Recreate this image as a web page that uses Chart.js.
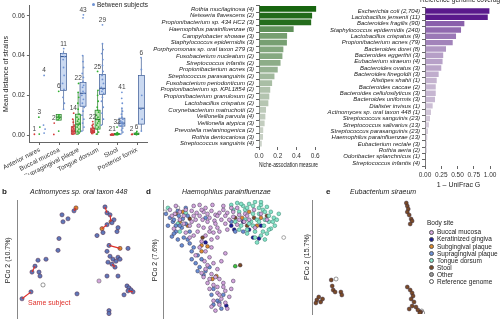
<!DOCTYPE html>
<html>
<head>
<meta charset="utf-8">
<script src="https://cdn.jsdelivr.net/npm/chart.js@4.4.1/dist/chart.umd.min.js"></script>
<style>
  html, body { margin: 0; padding: 0; background: #fff; }
  body { width: 500px; height: 319px; overflow: hidden; position: relative; font-family: "Liberation Sans", Arial, sans-serif; color: #222; }
  canvas { position: absolute; }
  .t { position: absolute; white-space: nowrap; font-size: 7px; line-height: 8px; }
  .lab { position: absolute; font-weight: bold; font-size: 8px; }
  .dot { position: absolute; width: 5px; height: 5px; border-radius: 50%; box-sizing: border-box; border: 0.5px solid #555; }
</style>
</head>
<body>
<canvas id="boxChart" width="160" height="175" style="left:0;top:0"></canvas>
<canvas id="nicheChart" width="180" height="172" style="left:150px;top:0"></canvas>
<canvas id="covChart" width="185" height="192" style="left:315px;top:0"></canvas>
<canvas id="actChart" width="150" height="140" style="left:0;top:185px"></canvas>
<canvas id="haeChart" width="160" height="140" style="left:148px;top:185px"></canvas>
<canvas id="eubChart" width="130" height="135" style="left:302px;top:185px"></canvas>

<div class="dot" style="left:92px;top:3px;width:3px;height:3px;background:#6f93d4;border:none"></div>
<div class="t" style="left:97px;top:1px;font-size:6.5px">Between subjects</div>
<div class="t" style="left:420px;top:-4px;font-size:6.5px">Reference genome coverage</div>

<div class="lab" style="left:2px;top:187px">b</div>
<div class="lab" style="left:146px;top:187px">d</div>
<div class="lab" style="left:326px;top:187px">e</div>
<div class="t" style="left:30px;top:188px;font-style:italic">Actinomyces sp. oral taxon 448</div>
<div class="t" style="left:182px;top:188px;font-style:italic">Haemophilus parainfluenzae</div>
<div class="t" style="left:350px;top:188px;font-style:italic">Eubacterium siraeum</div>
<div class="t" style="left:28px;top:299px;color:#e0302a">Same subject</div>

<div id="legend"></div>

<script>
// ---- panel a: mean distance of strains ----
const siteNames = ['Anterior nares', 'Buccal mucosa', 'Supragingival plaque', 'Tongue dorsum', 'Stool', 'Posterior fornix'];
const yTicksA = [0, 0.02, 0.04, 0.06];
// box stats: [whisker low, q1, median, q3, whisker high]
const redBox = [null, null, [0, 0.0005, 0.002, 0.0042, 0.008], [0.0003, 0.0012, 0.002, 0.0035, 0.0055], [0, 0.0001, 0.0002, 0.0004, 0.0008], null];
const greenBox = [null, [0.0075, 0.0075, 0.009, 0.0103, 0.0105], [0, 0.0015, 0.0055, 0.0105, 0.0215], [0, 0.003, 0.0078, 0.0125, 0.0225], [0, 0.0002, 0.0004, 0.0008, 0.0015], [0, 0.0002, 0.0005, 0.001, 0.0018]];
const blueBox = [null, [0.013, 0.0225, 0.0395, 0.041, 0.0425], [0.002, 0.0145, 0.021, 0.0265, 0.040], [0.005, 0.0205, 0.0235, 0.0305, 0.046], [0.0005, 0.0045, 0.006, 0.0085, 0.0135], [0.002, 0.0055, 0.0135, 0.030, 0.039]];
const redCounts = [1, 2, 14, 22, 21, 2];
const greenCounts = [3, 6, 22, 25, 32, 6];
const blueCounts = [4, 11, 43, 29, 41, 6];
// points: [jitter, value]
const redPts = [
  [[0, 0.0004]],
  [[0, 0.0003], [0.02, 0.006]],
  [[-0.05, 0.0005], [0.04, 0.001], [-0.02, 0.0015], [0.06, 0.002], [-0.06, 0.0025], [0.03, 0.003], [0, 0.0035], [-0.04, 0.004], [0.05, 0.005], [0, 0.0065], [-0.03, 0.008], [0.02, 0.011]],
  [[-0.05, 0.0008], [0.04, 0.0012], [-0.02, 0.0016], [0.06, 0.002], [0, 0.0024], [-0.06, 0.0028], [0.03, 0.0033], [0, 0.004], [-0.03, 0.0048], [0.02, 0.0055], [0, 0.0068]],
  [[-0.05, 0.0001], [0.03, 0.0002], [0, 0.0003], [0.06, 0.0004], [-0.03, 0.0005]],
  [[0, 0.0003], [0.04, 0.0004]]
];
const greenPts = [
  [[0, 0.0005], [0.03, 0.004], [-0.02, 0.009]],
  [[0, 0.002], [-0.03, 0.0078], [0.03, 0.0085], [0, 0.0095], [0.02, 0.0102], [0, 0.022]],
  [[-0.06, 0.0005], [0.05, 0.001], [-0.02, 0.002], [0.04, 0.003], [-0.05, 0.004], [0, 0.005], [0.06, 0.006], [-0.03, 0.007], [0.02, 0.008], [-0.06, 0.009], [0.05, 0.0105], [0, 0.013], [-0.02, 0.016], [0.03, 0.019], [0, 0.0215], [0.02, 0.026]],
  [[-0.06, 0.0005], [0.05, 0.0015], [-0.02, 0.003], [0.04, 0.004], [-0.05, 0.005], [0, 0.006], [0.06, 0.007], [-0.03, 0.008], [0.02, 0.009], [-0.06, 0.010], [0.05, 0.0115], [0, 0.0125], [-0.02, 0.014], [0.03, 0.017], [0, 0.02], [0.02, 0.0225], [0, 0.032]],
  [[-0.05, 0.0001], [0.03, 0.0002], [0, 0.0004], [0.06, 0.0006], [-0.03, 0.0008], [0.02, 0.0012], [0, 0.004]],
  [[0, 0.0002], [0.04, 0.0005], [-0.03, 0.0009], [0.02, 0.0018]]
];
const bluePts = [
  [[0, 0.001], [0.05, 0.003], [-0.03, 0.005], [0, 0.030]],
  [[0, 0.013], [0.04, 0.016], [-0.03, 0.019], [0.02, 0.023], [-0.05, 0.026], [0.03, 0.03], [0, 0.034], [-0.02, 0.038], [0.05, 0.0395], [-0.04, 0.041], [0.01, 0.0435]],
  [[-0.06, 0.002], [0.05, 0.004], [-0.02, 0.006], [0.04, 0.008], [-0.05, 0.01], [0, 0.012], [0.06, 0.014], [-0.03, 0.016], [0.02, 0.018], [-0.06, 0.020], [0.05, 0.021], [0, 0.022], [-0.02, 0.024], [0.03, 0.025], [0, 0.027], [0.02, 0.029], [-0.04, 0.031], [0.03, 0.034], [0, 0.037], [-0.02, 0.040], [0, 0.059], [0.02, 0.0605]],
  [[-0.06, 0.005], [0.05, 0.008], [-0.02, 0.011], [0.04, 0.014], [-0.05, 0.017], [0, 0.019], [0.06, 0.021], [-0.03, 0.022], [0.02, 0.023], [-0.06, 0.024], [0.05, 0.026], [0, 0.028], [-0.02, 0.03], [0.03, 0.032], [0, 0.035], [0.02, 0.038], [-0.04, 0.041], [0.03, 0.043], [0, 0.046], [0, 0.0555]],
  [[-0.06, 0.0005], [0.05, 0.0015], [-0.02, 0.0025], [0.04, 0.0035], [-0.05, 0.0045], [0, 0.005], [0.06, 0.0055], [-0.03, 0.006], [0.02, 0.0065], [-0.06, 0.007], [0.05, 0.008], [0, 0.009], [-0.02, 0.0105], [0.03, 0.012], [0, 0.0135], [0.02, 0.016], [-0.01, 0.0185], [0, 0.0215]],
  [[0, 0.002], [0.04, 0.008], [-0.03, 0.013], [0.02, 0.02], [0, 0.033], [-0.02, 0.039]]
];

// ---- panel c: niche association ----
const nicheSpecies = ['Rothia mucilaginosa (4)', 'Neisseria flavescens (2)', 'Propionibacterium sp. 434 HC2 (3)', 'Haemophilus parainfluenzae (6)', 'Campylobacter showae (3)', 'Staphylococcus epidermidis (3)', 'Porphyromonas sp. oral taxon 279 (3)', 'Fusobacterium nucleatum (2)', 'Streptococcus infantis (2)', 'Propionibacterium acnes (3)', 'Streptococcus parasanguinis (2)', 'Fusobacterium periodonticum (2)', 'Propionibacterium sp. KPL1854 (2)', 'Propionibacterium granulosum (2)', 'Lactobacillus crispatus (2)', 'Corynebacterium matruchotii (2)', 'Veillonella parvula (4)', 'Veillonella atypica (3)', 'Prevotella melaninogenica (2)', 'Rothia dentocariosa (3)', 'Streptococcus sanguinis (4)'];
const nicheValues = [0.61, 0.567, 0.557, 0.37, 0.30, 0.298, 0.26, 0.25, 0.23, 0.20, 0.165, 0.14, 0.12, 0.11, 0.10, 0.075, 0.068, 0.06, 0.045, 0.043, 0.03];
const nicheTicks = [0, 0.2, 0.4, 0.6];

// ---- reference genome coverage ----
const covSpecies = ['Escherichia coli (2,704)', 'Lactobacillus jensenii (11)', 'Bacteroides fragilis (90)', 'Staphylococcus epidermidis (240)', 'Lactobacillus crispatus (9)', 'Propionibacterium acnes (79)', 'Bacteroides dorei (8)', 'Bacteroides eggerthii (3)', 'Eubacterium siraeum (4)', 'Bacteroides ovatus (3)', 'Bacteroides finegoldii (3)', 'Alistipes shahii (1)', 'Bacteroides caccae (2)', 'Bacteroides cellulosilyticus (3)', 'Bacteroides uniformis (3)', 'Dialister invisus (1)', 'Actinomyces sp. oral taxon 448 (1)', 'Streptococcus sanguinis (23)', 'Streptococcus salivarius (13)', 'Streptococcus parasanguinis (23)', 'Haemophilus parainfluenzae (13)', 'Eubacterium rectale (3)', 'Rothia aeria (2)', 'Odoribacter splanchnicus (1)', 'Streptococcus infantis (4)'];
const covValues = [0.99, 0.965, 0.605, 0.554, 0.477, 0.426, 0.323, 0.28, 0.27, 0.25, 0.21, 0.18, 0.165, 0.165, 0.154, 0.118, 0.092, 0.077, 0.06, 0.046, 0.035, 0.03, 0.028, 0.01, 0.005];
const covTicks = [0, 0.25, 0.5, 0.75, 1];

// ---- panel b: Actinomyces PCoA (PCo1, PCo2 scores, arbitrary units) ----
const actSupra = [[25, 53], [27, 47], [-6, 49], [-18, 45], [-12, 41], [-17, 38], [30, 45], [34, 40], [32, 37], [27, 35], [17, 24], [23, 27], [38, 32], [37, 28], [-21, 21], [-22, 9], [48, 11], [29, 14], [27, 8], [30, 3], [33, 0], [36, -2], [38, 2], [28, -3], [-42, -1], [-34, 0], [-48, -13], [-41, -13], [-40, -17], [-45, -7], [27, -17], [38, -17], [47, -27], [49, -29], [51, -31], [53, -33], [48, -32], [44, -36], [-3, -35], [-58, -40], [-49, -33], [29, -52], [29, -55], [40, 0], [32, -5], [35, -8]];
const actSubg = [[-4, 52], [31, 38], [22, 31], [40, 11]];
const actBuccal = [[19, -22]];
const actRef = [[-37, -26]];
const actPairs = [[[-58, -40], [-49, -33]], [[29, 14], [40, 11]], [[-48, -13], [-45, -7]], [[-6, 49], [-4, 52]], [[48, -32], [53, -33]], [[25, 53], [27, 47]], [[27, 35], [22, 31]], [[32, -5], [35, -8]], [[30, 45], [31, 38]]];

// ---- panel d: Haemophilus PCoA ----
const haeBuccal = [[-50, 50], [-45, 46], [-40, 48], [-34, 50], [-28, 49], [-23, 47], [-20, 44], [-16, 48], [-12, 46], [-8, 49], [-4, 45], [0, 47], [4, 50], [8, 47], [-17, 40], [-24, 40], [-12, 38], [-5, 39], [2, 40], [6, 36], [10, 40], [14, 43], [20, 45], [26, 46], [30, 40], [-30, 34], [-21, 34], [-9, 32], [-2, 32], [-34, 27], [-26, 24], [-14, 24], [-6, 27], [-40, 40], [18, 35], [25, 38], [42, 46], [48, 40], [36, 32], [-46, 31], [-20, 55], [-7, 55], [12, 52], [35, 50], [-44, 54],
  [-48, 44], [-36, 44], [-26, 44], [-18, 50], [-10, 42], [-2, 44], [6, 44], [14, 48], [20, 40], [-28, 38], [-36, 36], [-22, 28], [-16, 32], [-4, 36], [0, 28], [8, 30], [-30, 22], [-18, 18], [-8, 20], [4, 54], [-14, 52], [-26, 54], [28, 44], [18, 52], [-10, 28], [-2, 22],
  [-20, 12], [-14, 8], [-8, 12], [-24, 4], [-10, 2], [-6, -4], [-15, -2], [-2, -10], [-8, -15], [0, -20], [-6, -26], [4, -24], [-10, -30], [-2, -34], [6, -32], [2, -40], [-6, -42], [10, -38], [0, -46], [8, -50], [-4, -52], [14, -22], [-16, -18], [-12, -24], [2, -2], [6, 6],
  [-12, -6], [-4, -18], [-10, -20], [4, -28], [-2, -28], [6, -44], [-8, -48], [12, -30], [0, -36], [-14, -10], [-18, -14]];
const haeSupra = [[-54, 46], [-50, 42], [-47, 38], [-44, 34], [-41, 44], [-37, 41], [-38, 32], [-44, 28], [-48, 23], [-36, 22], [-30, 28], [-52, 34], [-42, 49], [-32, 44], [-30, 16], [-26, 12], [-28, 8], [-22, 4], [-18, 0], [-24, -4], [-20, -8], [-14, -12], [-10, -8], [-8, -36], [-2, -42], [2, -50], [-6, -46], [4, -36], [16, 28], [24, 28], [-14, 42], [12, 38], [-34, 52],
  [-46, 40], [-40, 34], [-34, 36], [-46, 26], [-42, 20], [-32, 20], [-38, 14], [-28, 0], [-22, -12], [-16, -16], [-6, -30], [0, -44]];
const haeTongue = [[12, 55], [18, 57], [24, 54], [30, 56], [36, 58], [42, 55], [48, 53], [52, 48], [55, 42], [50, 38], [45, 34], [52, 31], [48, 26], [42, 24], [36, 28], [28, 30], [22, 34], [16, 38], [20, 48], [26, 50], [34, 46], [40, 46], [38, 40], [32, 38], [26, 40], [44, 50], [56, 34], [46, 20], [38, 17], [-52, 52], [-34, 47], [-40, 28], [-42, 36],
  [14, 50], [22, 56], [28, 52], [34, 54], [40, 52], [46, 48], [50, 44], [54, 38], [46, 40], [40, 38], [34, 34], [30, 36], [44, 28], [50, 30], [36, 22], [28, 26], [20, 30], [58, 40], [60, 46], [42, 58]];
const haeSubg = [[-44, 46], [-40, 38], [-37, 48], [23, 42], [30, 48], [38, 34], [42, 42], [-18, 14], [-18, 8], [-3, -17], [-7, -20], [-32, 34], [-12, 13]];
const haeKerat = [[15, 30], [30, 30], [34, 22], [40, 21], [24, 38], [-14, 17], [7, -47], [42, 34], [12, 34]];
const haeStool = [[16, 42], [28, 34], [35, 42], [21, -6], [-17, 22], [-30, 41], [48, 44]];
const haeOther = [[16, -7]];
const haeRef = [[-55, 48], [65, 22], [-42, 52]];

// ---- panel e: Eubacterium siraeum PCoA ----
const eubStool = [[40, 57], [41, 54], [42, 51], [41, 48], [43, 45], [45, 41], [46, 39], [44, 36], [-38, -20], [-37, -26], [-36, -30], [-34, -32], [-28, -32], [-27, -35], [-53, -40], [-51, -37], [-49, -42], [-47, -39], [-54, -43], [41, -27], [44, -30], [46, -33], [47, -36], [45, -39], [48, -42], [46, -46], [43, -49], [50, -47], [52, -50], [55, -52], [54, -53]];
const eubRef = [[-33, -19], [56, -51], [57, -53]];

const bodySites = ['Buccal mucosa', 'Keratinized gingiva', 'Subgingival plaque', 'Supragingival plaque', 'Tongue dorsum', 'Stool', 'Other', 'Reference genome'];
const siteColors = ['#d3a6dc', '#1b1b96', '#dc8a2c', '#6a8fd3', '#86e3c8', '#7a4b27', '#9a9a9a', '#ffffff'];

Chart.defaults.font.family = '"Liberation Sans", Arial, sans-serif';
Chart.defaults.font.size = 6;
Chart.defaults.color = '#333';
Chart.defaults.animation = false;
Chart.defaults.responsive = false;
Chart.defaults.plugins.legend.display = false;
Chart.defaults.plugins.tooltip.enabled = false;

const fixSize = (w, h) => (scale) => {
  if (w != null) scale.width = w;
  if (h != null) scale.height = h;
};
const mix = (a, b, t) => {
  const p = (c) => [1, 3, 5].map(i => parseInt(c.substr(i, 2), 16));
  const A = p(a), B = p(b);
  return 'rgb(' + A.map((v, i) => Math.round(v + (B[i] - v) * t)).join(',') + ')';
};

// panel a
const groupsA = [
  { box: redBox, pts: redPts, counts: redCounts, off: -0.28, w: 4, fill: '#eeaaaa', stroke: '#9e2424', pt: '#d63a3a' },
  { box: greenBox, pts: greenPts, counts: greenCounts, off: -0.03, w: 5, fill: '#bde6b4', stroke: '#1f7a22', pt: '#2fae2f' },
  { box: blueBox, pts: bluePts, counts: blueCounts, off: 0.22, w: 6, fill: '#cad9f1', stroke: '#3b5a94', pt: '#6f93d4' }
];
const boxPlugin = {
  id: 'boxes',
  beforeDatasetsDraw(chart) {
    const { ctx, scales: { x, y } } = chart;
    ctx.save();
    groupsA.forEach(g => {
      g.box.forEach((b, i) => {
        if (!b) return;
        const cx = x.getPixelForValue(i + 1 + g.off);
        const [lo, q1, med, q3, hi] = b.map(v => y.getPixelForValue(v));
        ctx.strokeStyle = g.stroke;
        ctx.lineWidth = 0.7;
        ctx.beginPath();
        ctx.moveTo(cx, lo); ctx.lineTo(cx, q1);
        ctx.moveTo(cx, q3); ctx.lineTo(cx, hi);
        ctx.stroke();
        ctx.fillStyle = g.fill;
        ctx.fillRect(cx - g.w / 2, q3, g.w, Math.max(q1 - q3, 1));
        ctx.strokeRect(cx - g.w / 2, q3, g.w, Math.max(q1 - q3, 1));
        ctx.lineWidth = 1.1;
        ctx.beginPath();
        ctx.moveTo(cx - g.w / 2, med); ctx.lineTo(cx + g.w / 2, med);
        ctx.stroke();
      });
    });
    ctx.restore();
  },
  afterDatasetsDraw(chart) {
    const { ctx, scales: { x, y } } = chart;
    ctx.save();
    ctx.font = '6.5px "Liberation Sans", Arial, sans-serif';
    ctx.fillStyle = '#444';
    ctx.textAlign = 'center';
    ctx.textBaseline = 'bottom';
    groupsA.forEach(g => {
      g.counts.forEach((n, i) => {
        let top = Math.max(...g.pts[i].map(p => p[1]));
        if (g.box[i]) top = Math.max(top, g.box[i][4]);
        ctx.fillText(String(n), x.getPixelForValue(i + 1 + g.off), y.getPixelForValue(top) - 1.5);
      });
    });
    ctx.restore();
  }
};
new Chart(document.getElementById('boxChart'), {
  type: 'scatter',
  data: {
    datasets: groupsA.map(g => ({
      data: g.pts.flatMap((arr, i) => arr.map(p => ({ x: i + 1 + g.off + p[0], y: p[1] }))),
      backgroundColor: g.pt, borderWidth: 0, pointRadius: 0.9
    }))
  },
  options: {
    devicePixelRatio: 1,
    layout: { padding: { top: 2, right: 13, left: 0, bottom: 0 } },
    scales: {
      x: {
        type: 'linear', min: 0.49, max: 6.51,
        afterFit: fixSize(null, 33),
        afterBuildTicks: (s) => { s.ticks = siteNames.map((_, i) => ({ value: i + 1 })); },
        ticks: { callback: (v) => siteNames[v - 1], minRotation: 27, maxRotation: 27, autoSkip: false, padding: 1, font: { size: 6.5 } },
        grid: { drawOnChartArea: false, tickLength: 3, color: '#666' },
        border: { color: '#666' }
      },
      y: {
        min: -0.0035, max: 0.065,
        afterFit: fixSize(29, null),
        afterBuildTicks: (s) => { s.ticks = yTicksA.map(v => ({ value: v })); },
        ticks: { callback: (v) => v.toFixed(2), padding: 2, font: { size: 6.5 } },
        grid: { drawOnChartArea: false, tickLength: 3, color: '#666' },
        border: { color: '#666' },
        title: { display: true, text: 'Mean distance of strains', font: { size: 7 }, padding: { top: 0.5, bottom: 0 }, color: '#222' }
      }
    }
  },
  plugins: [boxPlugin]
});

// horizontal bars
function barChart(id, labels, values, ticks, decimals, max, light, dark, vmax, yWidth, xHeight, pad, title) {
  new Chart(document.getElementById(id), {
    type: 'bar',
    data: {
      labels: labels,
      datasets: [{
        data: values,
        backgroundColor: values.map(v => mix(light, dark, Math.min(v / vmax, 1))),
        categoryPercentage: 0.86, barPercentage: 1
      }]
    },
    options: {
      devicePixelRatio: 1,
      indexAxis: 'y',
      layout: { padding: pad },
      scales: {
        y: {
          afterFit: fixSize(yWidth, null),
          ticks: { autoSkip: false, font: { size: 6, style: 'italic' }, color: '#222', padding: 2 },
          grid: { drawOnChartArea: false, tickLength: 3, color: '#666' },
          border: { color: '#666' }
        },
        x: {
          min: 0, max: max,
          afterFit: fixSize(null, xHeight),
          afterBuildTicks: (s) => { s.ticks = ticks.map(v => ({ value: v })); },
          ticks: { callback: (v) => v.toFixed(decimals), font: { size: 6.5 }, padding: 2, maxRotation: 0, minRotation: 0, autoSkip: false },
          grid: { drawOnChartArea: false, tickLength: 3, color: '#666' },
          border: { display: false },
          title: { display: true, text: title, font: { size: 7 }, color: '#222', padding: { top: 3, bottom: 3 } }
        }
      }
    }
  });
}
barChart('nicheChart', nicheSpecies, nicheValues, nicheTicks, 1, 0.63, '#d6d9d3', '#17650f', 0.6, 109, 25, { top: 5.6, right: 12, left: 0, bottom: 0 }, 'Niche-association measure');
barChart('covChart', covSpecies, covValues, covTicks, 2, 1.03, '#dcd6df', '#5a1a8c', 0.96, 110, 26, { top: 7.8, right: 8, left: 0, bottom: 0 }, '1 \u2013 UniFrac G');

// PCoA scatter panels
const pts = (arr) => arr.map(p => ({ x: p[0], y: p[1] }));
function pcoa(id, datasets, xr, yr, yWidth, titleText, titlePad, pad) {
  new Chart(document.getElementById(id), {
    type: 'scatter',
    data: { datasets: datasets },
    options: {
      devicePixelRatio: 1,
      layout: { padding: pad },
      scales: {
        x: { display: false, min: xr[0], max: xr[1] },
        y: {
          min: yr[0], max: yr[1],
          afterFit: fixSize(yWidth, null),
          ticks: { display: false },
          grid: { display: false },
          border: { color: '#888' },
          title: { display: true, text: titleText, font: { size: 7 }, color: '#222', padding: { top: titlePad, bottom: 0 } }
        }
      }
    }
  });
}
const ds = (arr, fill, r, border) => ({ data: pts(arr), backgroundColor: fill, borderColor: border || 'rgba(40,30,60,0.85)', borderWidth: 0.5, pointRadius: r });

pcoa('actChart', [
  ...actPairs.map(pair => ({ type: 'line', data: pts(pair), borderColor: '#e0302a', borderWidth: 1.2, pointRadius: 0, showLine: true })),
  ds(actSupra, '#5f78b8', 2.1, '#4a1f3f'),
  ds(actSubg, '#d98a2e', 2.1, '#4a1f3f'),
  ds(actBuccal, '#d3a6dc', 2.1, '#555'),
  ds(actRef, '#ffffff', 2.1, '#333')
], [-63, 60], [-62, 60], 17, 'PCo 2 (10.7%)', 3.8, { top: 15, right: 10, left: 0, bottom: 3 });

pcoa('haeChart', [
  ds(haeBuccal, '#d3a6dc', 1.9),
  ds(haeSupra, '#6a8fd3', 1.9),
  ds(haeTongue, '#86e3c8', 1.9, '#2f7a66'),
  ds(haeSubg, '#dc8a2c', 1.9),
  ds(haeStool, '#7a4b27', 1.9),
  ds(haeKerat, '#1b1b96', 1.9),
  ds(haeOther, '#3fc23f', 1.9),
  ds(haeRef, '#ffffff', 1.9, '#555')
], [-57, 85], [-62, 60], 15, 'PCo 2 (7.6%)', 2.8, { top: 15, right: 3, left: 0, bottom: 3 });

pcoa('eubChart', [
  ds(eubStool, '#7a4b27', 2),
  ds(eubRef, '#ffffff', 2, '#333')
], [-58, 62], [-54, 60], 10, 'PCo 2 (15.7%)', 0.5, { top: 15, right: 0, left: 0, bottom: 6 });

// body site legend
const leg = document.getElementById('legend');
leg.innerHTML = '<div class="t" style="left:427px;top:219px;font-size:6.5px">Body site</div>' +
  bodySites.map((s, i) => '<div class="dot" style="left:428.5px;top:' + (229.5 + i * 7.1) + 'px;background:' + siteColors[i] + '"></div>' +
    '<div class="t" style="left:437px;top:' + (228.3 + i * 7.1) + 'px;font-size:6.5px">' + s + '</div>').join('');
</script>
</body>
</html>
